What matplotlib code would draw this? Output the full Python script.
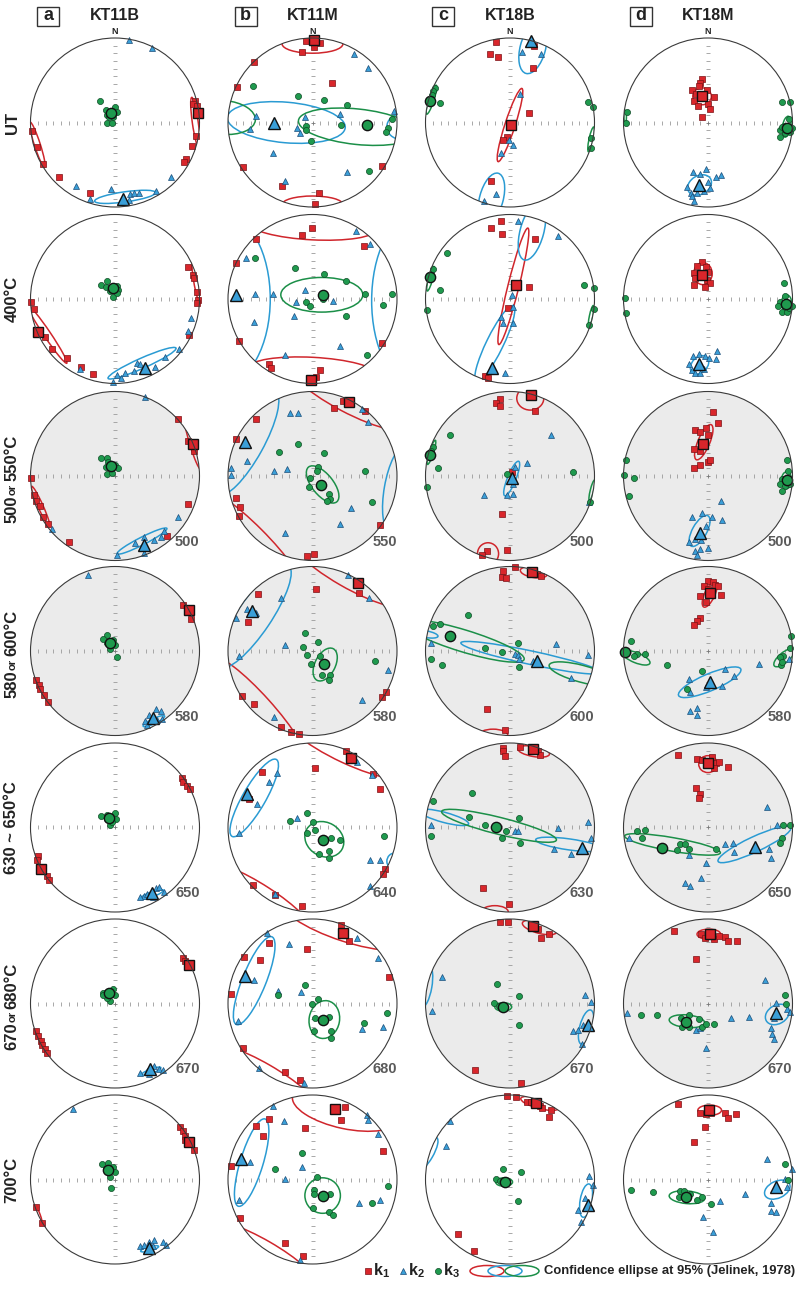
import matplotlib
matplotlib.use("Agg")
import numpy as np
import matplotlib.pyplot as plt
from matplotlib.patches import Circle, Ellipse, Rectangle
from matplotlib import font_manager

# ---- panel layout (pixels) ----
W, H = 800, 1291
R = 84.5
COL_X = [115, 312.5, 510, 708]
ROW_Y = [122.5, 299, 476, 651, 827.5, 1003.5, 1179.5]

SAMPLES = ["KT11B", "KT11M", "KT18B", "KT18M"]
LETTERS = ["a", "b", "c", "d"]

# row labels: (first part, small connector, second part)
ROW_LABELS = [("UT", "", ""), ("400°C", "", ""), ("500", "or", "550°C"),
              ("580", "or", "600°C"), ("630 ~ 650°C", "", ""),
              ("670", "or", "680°C"), ("700°C", "", "")]

STEP_KT11B = ["", "", "500", "580", "650", "670", ""]
STEP_KT11M = ["", "", "550", "580", "640", "680", ""]
STEP_KT18B = ["", "", "500", "600", "630", "670", ""]
STEP_KT18M = ["", "", "500", "580", "650", "670", ""]

# shaded panels, per row
SHADED = [[0, 0, 0, 0], [0, 0, 0, 0], [1, 1, 1, 1], [1, 1, 1, 1],
          [0, 0, 1, 1], [0, 0, 1, 1], [0, 0, 0, 0]]

# ---------------- KT11B ----------------
KT11B_K1 = [
    [(0.95, 0.26), (0.92, 0.22), (0.97, 0.19), (0.96, -0.16), (0.91, -0.28), (0.84, -0.43), (0.82, -0.47),
     (-0.98, -0.10), (-0.92, -0.29), (-0.85, -0.49), (-0.66, -0.65), (-0.30, -0.83)],
    [(0.86, 0.38), (0.92, 0.28), (0.94, 0.25), (0.97, 0.08), (0.98, -0.01), (0.97, -0.05), (0.88, -0.43),
     (-0.99, -0.03), (-0.96, -0.12), (-0.83, -0.45), (-0.74, -0.59), (-0.57, -0.70), (-0.40, -0.80), (-0.26, -0.89)],
    [(0.75, 0.67), (0.86, 0.42), (0.94, 0.30), (0.86, -0.33), (0.62, -0.71), (-0.99, -0.02), (-0.96, -0.23),
     (-0.93, -0.29), (-0.89, -0.36), (-0.85, -0.49), (-0.79, -0.57), (-0.55, -0.78)],
    [(0.81, 0.55), (0.90, 0.38), (-0.94, -0.34), (-0.90, -0.40), (-0.89, -0.45), (-0.84, -0.52), (-0.79, -0.60)],
    [(0.79, 0.58), (0.81, 0.54), (0.85, 0.49), (0.89, 0.45), (-0.91, -0.34), (-0.92, -0.38), (-0.80, -0.57), (-0.78, -0.62)],
    [(0.81, 0.54), (0.83, 0.50), (-0.93, -0.32), (-0.91, -0.38), (-0.88, -0.44), (-0.86, -0.49), (-0.83, -0.54), (-0.80, -0.58)],
    [(0.77, 0.62), (0.81, 0.57), (0.83, 0.52), (0.83, 0.47), (0.93, 0.35), (-0.93, -0.33), (-0.86, -0.52)],
]
KT11B_K2 = [
    [(0.16, 0.98), (0.44, 0.88), (0.66, -0.64), (0.48, -0.81), (-0.46, -0.75), (-0.29, -0.91), (-0.05, -0.79),
     (0.18, -0.85), (0.23, -0.84), (0.28, -0.83), (0.16, -0.92)],
    [(0.90, -0.23), (0.86, -0.38), (0.76, -0.59), (0.59, -0.69), (0.47, -0.80), (0.26, -0.76), (0.30, -0.77),
     (0.22, -0.85), (0.12, -0.88), (0.02, -0.90), (0.07, -0.94), (-0.02, -0.98), (-0.42, -0.83)],
    [(0.35, 0.93), (0.74, -0.49), (0.58, -0.65), (0.54, -0.72), (0.46, -0.76), (0.34, -0.72), (0.24, -0.79),
     (0.34, -0.91), (0.02, -0.93), (-0.74, -0.63)],
    [(-0.32, 0.90), (0.48, -0.69), (0.54, -0.71), (0.40, -0.76), (0.36, -0.83), (0.56, -0.80), (0.50, -0.82), (0.38, -0.87)],
    [(0.34, -0.81), (0.38, -0.79), (0.48, -0.72), (0.52, -0.71), (0.58, -0.76), (0.45, -0.82), (0.30, -0.82)],
    [(0.30, -0.82), (0.38, -0.80), (0.46, -0.74), (0.52, -0.77), (0.57, -0.79), (0.40, -0.83)],
    [(-0.50, 0.84), (0.30, -0.79), (0.34, -0.77), (0.40, -0.74), (0.46, -0.72), (0.45, -0.79), (0.57, -0.74), (0.60, -0.77)],
]
KT11B_K3 = [
    [(-0.18, 0.26), (-0.11, 0.15), (0.0, 0.18), (0.02, 0.13), (-0.09, 0.09), (-0.02, 0.07), (-0.09, 0.0), (-0.04, -0.01), (-0.07, 0.06)],
    [(-0.09, 0.21), (-0.16, 0.16), (-0.11, 0.14), (0.02, 0.15), (0.04, 0.11), (-0.06, 0.09), (-0.02, 0.02), (0.02, 0.07)],
    [(-0.16, 0.21), (-0.09, 0.21), (-0.11, 0.11), (0.0, 0.13), (-0.10, 0.02), (-0.04, 0.03), (0.03, 0.09), (-0.08, 0.17)],
    [(-0.10, 0.19), (-0.14, 0.14), (-0.02, 0.13), (0.0, 0.07), (-0.06, 0.02), (-0.10, 0.09), (0.02, -0.07)],
    [(-0.16, 0.14), (-0.10, 0.15), (0.0, 0.17), (0.01, 0.10), (-0.06, 0.03), (-0.10, 0.10), (-0.04, 0.06)],
    [(-0.14, 0.13), (-0.02, 0.17), (0.0, 0.10), (-0.06, 0.03), (-0.10, 0.07), (-0.14, 0.10)],
    [(-0.15, 0.18), (-0.08, 0.20), (-0.02, 0.15), (0.0, 0.09), (-0.06, 0.03), (-0.11, 0.13), (-0.05, -0.10)],
]
# mean directions per row: k1, k2, k3
KT11B_MEAN = [
    [(0.98, 0.11), (0.09, -0.91), (-0.05, 0.11)],
    [(-0.91, -0.39), (0.35, -0.82), (-0.02, 0.13)],
    [(0.92, 0.38), (0.34, -0.82), (-0.05, 0.12)],
    [(0.87, 0.49), (0.45, -0.79), (-0.06, 0.10)],
    [(-0.88, -0.49), (0.44, -0.77), (-0.07, 0.11)],
    [(0.88, 0.46), (0.42, -0.78), (-0.07, 0.12)],
    [(0.88, 0.44), (0.40, -0.81), (-0.08, 0.11)],
]
# confidence ellipses: (axis, x, y, long, short, angle)
KT11B_ELL = [
    [("k1", 0.95, 0.0, 0.6, 0.07, 98), ("k1", -0.92, -0.26, 0.56, 0.07, 108), ("k2", 0.12, -0.88, 0.73, 0.12, 8)],
    [("k1", 0.96, 0.22, 0.5, 0.06, 99), ("k1", -0.80, -0.42, 0.82, 0.08, 124), ("k2", 0.32, -0.76, 0.88, 0.12, 24)],
    [("k1", 0.92, 0.38, 0.62, 0.07, 107), ("k1", -0.88, -0.36, 0.52, 0.06, 114), ("k2", 0.32, -0.77, 0.66, 0.09, 27)],
    [("k2", 0.46, -0.83, 0.28, 0.06, 25)],
    [("k2", 0.44, -0.79, 0.28, 0.06, 20)],
    [("k2", 0.43, -0.80, 0.24, 0.05, 20)],
    [("k2", 0.41, -0.82, 0.22, 0.05, 15), ("k1", -0.90, -0.42, 0.2, 0.03, 110)],
]

# ---------------- KT11M ----------------
KT11M_K1 = [
    [(-0.08, 0.96), (0.09, 0.94), (0.02, 0.89), (-0.13, 0.83), (-0.69, 0.72), (-0.89, 0.42), (0.23, 0.47),
     (-0.82, -0.53), (-0.36, -0.75), (0.08, -0.84), (0.03, -0.96), (0.82, -0.51)],
    [(0.04, -0.92), (0.09, -0.84), (-0.51, -0.77), (-0.49, -0.82), (-0.87, -0.50), (0.82, -0.52), (-0.90, 0.43),
     (-0.67, 0.71), (-0.13, 0.76), (-0.01, 0.84), (0.61, 0.63)],
    [(0.36, 0.89), (0.26, 0.81), (0.62, 0.77), (-0.67, 0.68), (-0.90, 0.44), (-0.91, -0.26), (-0.86, -0.37),
     (-0.87, -0.47), (0.80, -0.58), (-0.07, -0.95), (0.02, -0.92)],
    [(0.55, 0.69), (0.04, 0.73), (-0.65, 0.67), (-0.76, 0.34), (-0.84, -0.53), (-0.69, -0.63), (-0.37, -0.90),
     (-0.25, -0.96), (-0.16, -0.98), (0.82, -0.54), (0.87, -0.49)],
    [(0.40, 0.91), (0.03, 0.70), (-0.60, 0.66), (-0.75, 0.34), (0.72, 0.63), (0.80, 0.46), (0.86, -0.49),
     (0.83, -0.55), (-0.70, -0.68), (-0.44, -0.80), (-0.13, -0.93)],
    [(0.34, 0.93), (0.43, 0.74), (-0.51, 0.72), (-0.81, 0.55), (-0.62, 0.51), (-0.07, 0.64), (-0.96, 0.11),
     (0.90, 0.31), (-0.82, -0.53), (-0.33, -0.81), (-0.15, -0.91)],
    [(0.39, 0.86), (0.34, 0.70), (-0.09, 0.61), (-0.51, 0.72), (-0.67, 0.63), (-0.59, 0.51), (-0.96, 0.16),
     (0.84, 0.34), (-0.86, -0.46), (-0.32, -0.75), (-0.11, -0.90)],
]
KT11M_K2 = [
    [(-0.67, 0.08), (-0.74, -0.08), (-0.18, -0.06), (-0.09, 0.06), (-0.15, -0.13), (-0.47, -0.36), (-0.33, -0.69),
     (0.32, 0.10), (0.41, -0.59), (0.49, 0.81), (0.66, 0.64), (0.96, 0.14)],
    [(-0.68, 0.06), (-0.47, 0.06), (-0.79, 0.49), (-0.09, 0.11), (-0.19, -0.04), (0.24, -0.02), (-0.22, -0.20),
     (-0.69, -0.27), (-0.33, -0.66), (0.33, -0.56), (0.51, 0.81), (0.68, 0.65)],
    [(-0.27, 0.75), (-0.17, 0.74), (0.58, 0.79), (0.66, 0.64), (-0.78, 0.18), (-0.96, 0.09), (-0.96, 0.01),
     (-0.46, 0.06), (-0.30, 0.08), (0.46, -0.38), (0.33, -0.57), (-0.33, -0.67)],
    [(-0.77, 0.50), (-0.67, 0.45), (-0.91, 0.39), (-0.37, 0.63), (0.42, 0.90), (0.67, 0.63), (-0.32, 0.07),
     (-0.87, -0.06), (0.89, -0.22), (0.58, -0.58), (-0.45, -0.78)],
    [(-0.42, 0.65), (-0.52, 0.54), (-0.66, 0.28), (-0.87, -0.06), (-0.18, 0.11), (0.53, 0.78), (0.70, 0.62),
     (0.68, -0.39), (0.80, -0.39), (0.68, -0.69), (-0.44, -0.79)],
    [(-0.54, 0.84), (-0.28, 0.70), (0.53, 0.78), (0.78, 0.54), (-0.69, 0.28), (-0.41, 0.15), (-0.14, 0.14),
     (-0.88, -0.21), (0.58, -0.30), (0.84, -0.28), (-0.63, -0.76), (-0.10, -0.94)],
    [(-0.47, 0.87), (-0.34, 0.69), (0.65, 0.76), (0.66, 0.70), (0.78, 0.54), (-0.74, 0.21), (-0.33, 0.01),
     (-0.13, 0.15), (-0.87, -0.24), (0.55, -0.28), (0.80, -0.24), (-0.15, -0.95)],
]
KT11M_K3 = [
    [(-0.70, 0.43), (-0.17, 0.31), (0.14, 0.27), (0.41, 0.21), (-0.08, -0.04), (-0.08, -0.09), (0.34, -0.03),
     (-0.02, -0.22), (0.94, 0.04), (0.89, -0.06), (0.87, -0.11), (0.67, -0.57)],
    [(-0.68, 0.49), (-0.21, 0.37), (0.14, 0.29), (0.40, 0.21), (0.62, 0.06), (0.94, 0.06), (0.84, -0.07),
     (-0.08, -0.04), (-0.03, -0.08), (0.40, -0.20), (0.65, -0.66), (0.13, 0.0)],
    [(-0.40, 0.28), (-0.17, 0.38), (0.14, 0.27), (0.06, 0.11), (0.05, 0.06), (-0.03, -0.02), (-0.04, -0.13),
     (0.19, -0.21), (0.21, -0.27), (0.17, -0.29), (0.62, 0.06), (0.70, -0.31)],
    [(-0.09, 0.21), (0.06, 0.11), (-0.11, 0.05), (0.09, -0.06), (-0.06, -0.05), (-0.02, -0.15), (0.11, -0.28),
     (0.21, -0.28), (0.19, -0.34), (0.74, -0.12)],
    [(-0.27, 0.08), (-0.07, 0.17), (0.0, 0.06), (0.03, -0.03), (-0.07, -0.07), (0.22, -0.12), (0.32, -0.15),
     (0.20, -0.28), (0.08, -0.31), (0.19, -0.36), (0.85, -0.10)],
    [(-0.09, 0.22), (-0.41, 0.10), (0.06, 0.05), (-0.01, -0.01), (0.03, -0.17), (0.20, -0.16), (0.02, -0.33),
     (0.22, -0.33), (0.22, -0.41), (0.88, -0.11), (0.61, -0.23)],
    [(-0.13, 0.31), (-0.44, 0.12), (0.05, 0.03), (0.02, -0.12), (0.02, -0.17), (0.21, -0.17), (0.0, -0.34),
     (0.19, -0.38), (0.24, -0.42), (0.70, -0.28), (0.89, -0.08)],
]
KT11M_MEAN = [
    [(0.02, 0.98), (-0.45, 0.0), (0.64, -0.03)],
    [(-0.02, -0.96), (-0.91, 0.05), (0.12, 0.05)],
    [(0.43, 0.87), (-0.80, 0.40), (0.10, -0.11)],
    [(0.54, 0.81), (-0.72, 0.47), (0.14, -0.15)],
    [(0.46, 0.82), (-0.77, 0.40), (0.12, -0.15)],
    [(0.36, 0.84), (-0.80, 0.32), (0.13, -0.19)],
    [(0.27, 0.84), (-0.85, 0.24), (0.12, -0.20)],
]
KT11M_ELL = [
    [("k1", 0.0, 0.93, 0.72, 0.22, 0), ("k1", 0.0, -0.97, 0.72, 0.2, 0), ("k2", -0.31, 0.0, 1.4, 0.48, -5),
     ("k2", 1.05, -0.05, 0.34, 0.3, 0), ("k3", 0.53, -0.05, 1.4, 0.42, -6), ("k3", -1.05, 0.06, 0.75, 0.4, -5)],
    [("k1", 0.0, 0.86, 1.5, 0.32, -3), ("k1", 0.0, -0.85, 1.5, 0.32, -3), ("k2", -1.05, 0.0, 1.1, 2.0, 0),
     ("k2", 1.2, -0.02, 1.0, 2.0, 0), ("k3", 0.11, 0.05, 0.97, 0.41, 0)],
    [("k1", 0.45, 1.0, 1.8, 0.5, -28), ("k1", -0.71, -0.74, 1.6, 0.3, -45), ("k2", -0.78, 0.39, 1.4, 0.4, 61),
     ("k2", 1.0, -0.15, 1.0, 0.3, 80), ("k3", 0.12, -0.10, 0.53, 0.25, -51)],
    [("k1", 0.45, 1.0, 1.8, 0.5, -30), ("k1", -0.63, -0.68, 1.6, 0.3, -48), ("k2", -0.69, 0.41, 1.45, 0.4, 56),
     ("k3", 0.15, -0.16, 0.42, 0.24, 63)],
    [("k1", 0.45, 1.0, 1.8, 0.5, -25), ("k1", -0.6, -0.84, 1.4, 0.3, -33), ("k2", -0.69, 0.35, 1.05, 0.27, 60),
     ("k2", 0.98, -0.40, 0.2, 0.2, 0), ("k3", 0.14, -0.14, 0.48, 0.4, -30)],
    [("k1", 0.42, 0.98, 1.7, 0.5, -18), ("k1", -0.58, -0.86, 1.4, 0.3, -30), ("k2", -0.69, 0.27, 1.12, 0.28, 68),
     ("k3", 0.14, -0.19, 0.45, 0.36, 80)],
    [("k1", 0.4, 0.85, 1.3, 0.5, -12), ("k1", -0.58, -0.87, 1.4, 0.3, -30), ("k2", -0.72, 0.20, 1.08, 0.27, 73),
     ("k3", 0.12, -0.19, 0.42, 0.42, 0)],
]

# ---------------- KT18B ----------------
KT18B_K1 = [
    [(-0.16, 0.95), (-0.24, 0.81), (-0.14, 0.77), (0.28, 0.91), (0.27, 0.64), (0.22, 0.11), (-0.04, -0.17),
     (-0.08, -0.21), (-0.22, -0.69)],
    [(-0.11, 0.92), (-0.22, 0.84), (-0.10, 0.77), (0.30, 0.71), (0.23, 0.14), (-0.02, -0.11), (-0.29, -0.91), (-0.26, -0.94)],
    [(0.30, 0.77), (-0.12, 0.91), (-0.16, 0.86), (-0.12, 0.83), (0.02, 0.05), (-0.09, -0.45), (-0.04, -0.88),
     (-0.27, -0.89), (-0.33, -0.94)],
    [(0.32, 0.91), (0.37, 0.89), (0.06, 0.99), (-0.08, 0.95), (-0.09, 0.88), (-0.05, 0.86), (-0.27, -0.69), (-0.06, -0.93)],
    [(0.33, 0.90), (0.35, 0.86), (0.12, 0.95), (-0.08, 0.94), (-0.08, 0.91), (-0.06, 0.85), (-0.32, -0.72), (-0.01, -0.91)],
    [(0.33, 0.88), (0.46, 0.82), (0.37, 0.77), (-0.12, 0.97), (-0.02, 0.96), (-0.42, -0.79), (0.13, -0.94)],
    [(0.20, 0.92), (0.25, 0.92), (0.36, 0.87), (0.38, 0.85), (0.49, 0.82), (0.46, 0.74), (0.07, 0.98), (-0.04, 0.99),
     (-0.61, -0.65), (-0.43, -0.85)],
]
KT18B_K2 = [
    [(0.14, 0.83), (0.37, 0.81), (0.12, 0.34), (-0.01, -0.21), (0.04, -0.27), (-0.11, -0.36), (-0.17, -0.85), (-0.31, -0.93)],
    [(0.10, 0.92), (0.57, 0.75), (0.02, 0.05), (0.03, -0.09), (-0.11, -0.21), (-0.08, -0.28), (0.03, -0.28), (-0.06, -0.87)],
    [(0.06, 0.11), (0.20, 0.15), (0.48, 0.49), (0.03, -0.10), (0.04, -0.21), (-0.04, -0.22), (-0.31, -0.22), (0.94, -0.31)],
    [(0.27, -0.12), (0.06, -0.04), (0.09, -0.05), (0.11, -0.10), (0.55, 0.08), (0.92, -0.05), (0.72, -0.32), (-0.93, 0.09)],
    [(-0.93, 0.03), (0.06, -0.04), (0.10, -0.04), (0.57, -0.01), (0.92, 0.07), (0.96, -0.13), (0.52, -0.26), (0.72, -0.31)],
    [(-0.81, 0.31), (-0.92, -0.09), (0.89, 0.10), (0.96, 0.02), (0.86, -0.25), (0.75, -0.32), (0.80, -0.31), (0.85, -0.48)],
    [(-0.71, 0.69), (-0.76, 0.40), (0.93, 0.04), (0.98, -0.06), (0.89, -0.22), (0.81, -0.36), (0.84, -0.50)],
]
KT18B_K3 = [
    [(-0.89, 0.41), (-0.91, 0.37), (-0.92, 0.33), (-0.83, 0.23), (0.92, 0.24), (0.98, 0.18), (0.96, -0.18), (0.96, -0.30)],
    [(-0.91, 0.36), (-0.75, 0.55), (-0.83, 0.11), (-0.98, -0.13), (0.87, 0.17), (0.99, 0.13), (0.99, -0.12), (0.94, -0.31)],
    [(-0.91, 0.34), (-0.93, 0.30), (-0.71, 0.48), (-0.85, 0.10), (-0.98, -0.13), (-0.04, 0.02), (0.74, 0.05), (0.95, -0.31)],
    [(-0.91, 0.30), (-0.83, 0.32), (-0.50, 0.43), (-0.29, 0.04), (-0.10, -0.01), (0.10, 0.09), (0.11, -0.19),
     (-0.93, -0.09), (-0.80, -0.16)],
    [(-0.45, 0.41), (-0.91, 0.31), (-0.49, 0.13), (-0.29, 0.03), (-0.05, -0.04), (-0.10, -0.13), (0.11, 0.11),
     (0.12, -0.18), (-0.94, -0.10)],
    [(-0.15, 0.23), (-0.19, 0.01), (-0.13, -0.03), (0.11, 0.09), (0.11, -0.25)],
    [(-0.08, 0.13), (0.13, 0.09), (-0.16, 0.01), (-0.12, -0.02), (0.09, -0.25)],
]
KT18B_MEAN = [
    [(0.01, -0.03), (0.25, 0.96), (-0.95, 0.26)],
    [(0.07, 0.17), (-0.21, -0.82), (-0.95, 0.26)],
    [(0.25, 0.96), (0.02, -0.02), (-0.95, 0.25)],
    [(0.26, 0.94), (0.32, -0.12), (-0.71, 0.18)],
    [(0.27, 0.93), (0.85, -0.24), (-0.16, 0.0)],
    [(0.27, 0.92), (0.92, -0.26), (-0.08, -0.04)],
    [(0.31, 0.91), (0.92, -0.30), (-0.06, -0.03)],
]
KT18B_ELL = [
    [("k1", 0.0, -0.03, 0.91, 0.12, 72), ("k2", 0.27, 0.88, 0.62, 0.3, 75), ("k2", -0.22, -0.9, 0.62, 0.28, 75),
     ("k3", -0.93, 0.27, 0.36, 0.06, 72), ("k3", 0.96, -0.2, 0.3, 0.05, 78)],
    [("k1", 0.04, 0.15, 1.42, 0.13, 76), ("k2", 0.26, 0.8, 0.7, 0.28, 75), ("k2", -0.18, -0.53, 1.0, 0.2, 64),
     ("k3", -0.94, 0.24, 0.3, 0.05, 75), ("k3", 0.96, -0.2, 0.25, 0.04, 78)],
    [("k1", 0.24, 0.92, 0.32, 0.28, 0), ("k1", -0.26, -0.92, 0.25, 0.26, 0), ("k2", 0.02, -0.03, 0.44, 0.10, 68),
     ("k3", -0.93, 0.28, 0.3, 0.05, 72), ("k3", 0.97, -0.17, 0.25, 0.04, 76)],
    [("k1", 0.28, 0.93, 0.32, 0.12, -10), ("k1", -0.2, -1.0, 0.35, 0.15, 0), ("k2", 0.25, -0.08, 1.7, 0.16, -12),
     ("k2", -1.0, 0.2, 0.3, 0.08, -10), ("k3", -0.55, 0.12, 1.5, 0.26, -17), ("k3", 0.85, -0.27, 0.8, 0.2, -15)],
    [("k1", 0.28, 0.90, 0.38, 0.12, -10), ("k1", -0.18, -1.0, 0.32, 0.15, 0), ("k2", -0.78, 0.12, 0.6, 0.12, -15),
     ("k2", 0.70, -0.2, 0.8, 0.13, -8), ("k3", -0.13, 0.02, 1.4, 0.2, -14)],
    [("k1", 0.35, 0.9, 0.42, 0.14, -15), ("k2", 0.9, -0.28, 0.42, 0.15, 75), ("k2", -1.0, 0.2, 0.5, 0.15, 80),
     ("k3", -0.08, -0.04, 0.2, 0.1, 0)],
    [("k1", 0.35, 0.9, 0.46, 0.12, -15), ("k2", 0.9, -0.25, 0.4, 0.14, 80), ("k2", -0.98, 0.3, 0.45, 0.14, 60),
     ("k3", -0.07, -0.03, 0.2, 0.1, 0)],
]

# ---------------- KT18M ----------------
KT18M_K1 = [
    [(-0.07, 0.52), (-0.09, 0.47), (-0.11, 0.43), (-0.19, 0.39), (-0.14, 0.34), (-0.01, 0.38), (0.07, 0.30),
     (-0.16, 0.25), (-0.12, 0.20), (0.0, 0.22), (0.02, 0.16), (-0.07, 0.07)],
    [(-0.07, 0.44), (-0.13, 0.39), (-0.02, 0.38), (-0.16, 0.31), (0.0, 0.32), (-0.15, 0.25), (-0.01, 0.22),
     (0.02, 0.19), (-0.04, 0.14), (-0.16, 0.17)],
    [(0.06, 0.76), (0.12, 0.63), (-0.15, 0.55), (-0.09, 0.52), (-0.02, 0.57), (0.0, 0.48), (-0.16, 0.32),
     (-0.09, 0.29), (-0.17, 0.10), (-0.09, 0.13), (0.0, 0.17), (0.02, 0.19)],
    [(0.0, 0.83), (0.06, 0.82), (0.08, 0.78), (0.12, 0.77), (-0.05, 0.77), (-0.10, 0.65), (0.15, 0.66), (0.0, 0.73),
     (-0.02, 0.58), (-0.09, 0.39), (-0.13, 0.36), (-0.16, 0.31)],
    [(-0.35, 0.86), (-0.13, 0.81), (-0.07, 0.80), (0.05, 0.83), (0.09, 0.76), (0.13, 0.78), (0.07, 0.71),
     (0.24, 0.72), (-0.14, 0.47), (-0.09, 0.40), (-0.11, 0.35)],
    [(-0.40, 0.86), (-0.08, 0.82), (-0.04, 0.77), (0.07, 0.76), (0.13, 0.80), (0.20, 0.79), (0.24, 0.74),
     (0.34, 0.74), (-0.14, 0.53)],
    [(-0.35, 0.89), (-0.09, 0.79), (-0.02, 0.78), (0.03, 0.79), (0.20, 0.79), (0.24, 0.73), (0.33, 0.77),
     (-0.04, 0.62), (-0.16, 0.44)],
]
KT18M_K2 = [
    [(-0.02, -0.55), (-0.18, -0.59), (-0.09, -0.61), (0.10, -0.64), (0.15, -0.62), (0.0, -0.70), (0.02, -0.77),
     (-0.25, -0.76), (-0.20, -0.83), (-0.13, -0.83), (-0.19, -0.87), (-0.16, -0.93), (-0.05, -0.81)],
    [(-0.18, -0.67), (-0.11, -0.65), (-0.04, -0.67), (0.01, -0.70), (0.11, -0.61), (0.10, -0.71), (-0.22, -0.77),
     (-0.19, -0.84), (-0.15, -0.87), (-0.10, -0.87), (-0.05, -0.83)],
    [(0.15, -0.30), (-0.19, -0.48), (-0.07, -0.44), (0.05, -0.48), (0.17, -0.52), (-0.02, -0.59), (-0.23, -0.78),
     (-0.15, -0.74), (-0.08, -0.76), (-0.09, -0.86), (0.0, -0.85), (-0.15, -0.89), (-0.13, -0.93)],
    [(0.20, -0.21), (0.31, -0.29), (-0.22, -0.33), (0.17, -0.41), (-0.02, -0.43), (-0.21, -0.49), (0.60, -0.15),
     (0.96, -0.10), (-0.21, -0.71), (-0.13, -0.67), (-0.13, -0.76)],
    [(0.70, 0.24), (0.82, 0.03), (0.20, -0.20), (0.30, -0.18), (0.31, -0.29), (0.72, -0.25), (0.74, -0.36),
     (-0.02, -0.42), (-0.08, -0.60), (-0.27, -0.66), (-0.21, -0.69), (-0.94, -0.12), (-0.22, -0.33)],
    [(0.68, 0.28), (0.81, 0.01), (0.27, -0.17), (0.48, -0.16), (0.94, -0.07), (0.97, -0.10), (0.78, -0.17),
     (0.74, -0.29), (0.76, -0.36), (0.78, -0.42), (-0.14, -0.31), (-0.09, -0.29), (-0.02, -0.53), (-0.96, -0.11)],
    [(0.70, 0.24), (0.99, 0.13), (0.91, 0.01), (0.93, -0.09), (0.44, -0.17), (0.14, -0.26), (0.74, -0.28),
     (0.74, -0.37), (0.80, -0.38), (-0.06, -0.44), (0.06, -0.62)],
]
KT18M_K3 = [
    [(0.88, 0.24), (0.97, 0.24), (0.96, 0.04), (0.90, -0.04), (0.85, -0.09), (0.91, -0.13), (0.97, -0.11),
     (0.99, -0.07), (0.85, -0.17), (0.87, -0.05), (-0.96, 0.13), (-0.97, 0.0)],
    [(0.90, 0.19), (0.91, 0.04), (0.85, -0.03), (0.83, -0.08), (0.87, -0.15), (0.93, -0.15), (0.96, -0.11),
     (0.99, -0.08), (-0.98, 0.01), (-0.97, -0.16)],
    [(0.93, 0.19), (0.95, 0.06), (0.88, -0.04), (0.85, -0.09), (0.91, -0.12), (0.87, -0.18), (0.97, -0.10),
     (-0.97, 0.19), (-0.99, 0.01), (-0.88, -0.02), (-0.93, -0.24)],
    [(-0.91, 0.12), (-0.84, -0.03), (-0.88, -0.06), (-0.74, -0.03), (-0.48, -0.17), (-0.07, -0.24), (-0.25, -0.45),
     (0.98, 0.18), (0.97, 0.04), (0.89, -0.06), (0.85, -0.07), (0.86, -0.17), (0.88, -0.13)],
    [(-0.84, -0.04), (-0.74, -0.03), (-0.78, -0.13), (-0.37, -0.27), (-0.33, -0.20), (-0.27, -0.20), (-0.22, -0.26),
     (0.10, -0.26), (0.89, 0.03), (0.97, 0.03), (0.87, -0.13), (0.85, -0.18)],
    [(-0.79, -0.14), (-0.60, -0.14), (-0.32, -0.17), (-0.23, -0.14), (-0.31, -0.28), (-0.23, -0.28), (-0.11, -0.18),
     (-0.07, -0.28), (-0.02, -0.24), (0.07, -0.24), (0.91, 0.10), (0.92, 0.0)],
    [(-0.91, -0.12), (-0.65, -0.15), (-0.33, -0.14), (-0.28, -0.14), (-0.34, -0.21), (-0.21, -0.17), (-0.13, -0.24),
     (-0.07, -0.21), (0.03, -0.29), (0.91, 0.18), (0.95, 0.0)],
]
KT18M_MEAN = [
    [(-0.07, 0.31), (-0.11, -0.74), (0.93, -0.06)],
    [(-0.07, 0.28), (-0.11, -0.77), (0.92, -0.06)],
    [(-0.06, 0.38), (-0.09, -0.68), (0.94, -0.05)],
    [(0.02, 0.69), (0.02, -0.37), (-0.98, -0.01)],
    [(0.0, 0.76), (0.56, -0.23), (-0.54, -0.24)],
    [(0.02, 0.82), (0.81, -0.11), (-0.26, -0.22)],
    [(0.01, 0.82), (0.81, -0.09), (-0.26, -0.21)],
]
KT18M_ELL = [
    [("k1", -0.07, 0.31, 0.22, 0.2, 0), ("k2", -0.1, -0.74, 0.3, 0.22, 30), ("k3", 0.93, -0.05, 0.25, 0.1, 80),
     ("k3", -0.98, 0.07, 0.15, 0.03, 90)],
    [("k1", -0.06, 0.30, 0.26, 0.22, 90), ("k2", -0.1, -0.78, 0.25, 0.18, 45), ("k3", 0.93, -0.05, 0.2, 0.12, 90)],
    [("k1", -0.05, 0.40, 0.45, 0.14, 67), ("k2", -0.1, -0.65, 0.41, 0.17, 61), ("k3", 0.93, -0.05, 0.2, 0.12, 90)],
    [("k1", 0.02, 0.67, 0.33, 0.12, 65), ("k2", 0.02, -0.37, 0.8, 0.2, 23), ("k3", -0.85, -0.08, 0.35, 0.12, -22),
     ("k3", 0.9, -0.08, 0.3, 0.12, 40)],
    [("k1", 0.0, 0.75, 0.22, 0.2, 0), ("k2", 0.55, -0.2, 0.95, 0.18, 25), ("k3", -0.42, -0.2, 1.15, 0.16, -10)],
    [("k1", 0.01, 0.82, 0.28, 0.12, 0), ("k2", 0.82, -0.13, 0.3, 0.22, 30), ("k3", -0.25, -0.21, 0.42, 0.15, -5)],
    [("k1", 0.02, 0.82, 0.28, 0.12, 0), ("k2", 0.82, -0.12, 0.32, 0.2, 25), ("k3", -0.25, -0.21, 0.42, 0.15, -5)],
]

COLUMNS = [
    (KT11B_K1, KT11B_K2, KT11B_K3, KT11B_MEAN, KT11B_ELL, STEP_KT11B),
    (KT11M_K1, KT11M_K2, KT11M_K3, KT11M_MEAN, KT11M_ELL, STEP_KT11M),
    (KT18B_K1, KT18B_K2, KT18B_K3, KT18B_MEAN, KT18B_ELL, STEP_KT18B),
    (KT18M_K1, KT18M_K2, KT18M_K3, KT18M_MEAN, KT18M_ELL, STEP_KT18M),
]

# ---- styles ----
FACE = {"k1": "#d9262b", "k2": "#3a9fd8", "k3": "#1f9a4e"}
EDGE = {"k1": "#7a1216", "k2": "#1d4e78", "k3": "#0e4a25"}
LINE = {"k1": "#d0262c", "k2": "#2a9bd3", "k3": "#1b8f48"}
MARK = {"k1": "s", "k2": "^", "k3": "o"}
SMALL = {"k1": 4.2, "k2": 4.6, "k3": 4.4}
BIG = {"k1": 7.2, "k2": 8.0, "k3": 7.4}
SHADE = "#ebebeb"
INK = "#222222"

names = {f.name for f in font_manager.fontManager.ttflist}
COND = "Liberation Sans Narrow" if "Liberation Sans Narrow" in names else "Liberation Sans"
plt.rcParams["font.family"] = [COND, "DejaVu Sans"]
plt.rcParams["mathtext.fontset"] = "custom"
plt.rcParams["mathtext.bf"] = "Liberation Sans:bold"
plt.rcParams["mathtext.rm"] = "Liberation Sans"

fig = plt.figure(figsize=(W / 100, H / 100), dpi=100)

# overlay in pixel coordinates for labels and legend
ov = fig.add_axes([0, 0, 1, 1])
ov.set_xlim(0, W)
ov.set_ylim(H, 0)
ov.axis("off")

for j, (cx, name, let) in enumerate(zip(COL_X, SAMPLES, LETTERS)):
    bx = cx - 78
    ov.add_patch(Rectangle((bx, 7), 22, 19, fc="white", ec="#333333", lw=1.0))
    ov.text(bx + 11, 16, let, ha="center", va="center", fontsize=13, fontweight="bold", color=INK)
    ov.text(cx, 16, name, ha="center", va="center", fontsize=11.5, fontweight="bold", color=INK)
    ov.text(cx, 31.5, "N", ha="center", va="center", fontsize=6.5, fontweight="bold", color=INK)

for i, (cy, lab) in enumerate(zip(ROW_Y, ROW_LABELS)):
    a, mid, b = lab
    if not mid:
        ov.text(12, cy, a, rotation=90, ha="center", va="center", fontsize=12,
                fontweight="bold", color=INK)
    else:
        ov.text(12, cy + 33, a, rotation=90, ha="center", va="center", fontsize=12,
                fontweight="bold", color=INK)
        ov.text(13, cy + 13, mid, rotation=90, ha="center", va="center", fontsize=8,
                fontweight="bold", color=INK)
        ov.text(12, cy - 18, b, rotation=90, ha="center", va="center", fontsize=12,
                fontweight="bold", color=INK)

# legend
ly = 1271
lx = 368
for k, lab in zip(["k1", "k2", "k3"], ["1", "2", "3"]):
    ov.plot([lx], [ly], ls="none", marker=MARK[k], ms=SMALL[k], mfc=FACE[k], mec=EDGE[k], mew=0.5)
    ov.text(lx + 5, ly, r"$\mathbf{k_%s}$" % lab, ha="left", va="center", fontsize=11.5, color=INK)
    lx += 35
for k, ex in zip(["k1", "k2", "k3"], [487, 505, 522]):
    ov.add_patch(Ellipse((ex, ly), 34, 11, fill=False, ec=LINE[k], lw=1.1))
ov.text(544, ly, "Confidence ellipse at 95% (Jelinek, 1978)", ha="left", va="center",
        fontsize=9.4, fontweight="bold", color=INK)

hx = np.linspace(-0.91, 0.91, 21)

for j, (k1s, k2s, k3s, means, ells, steps) in enumerate(COLUMNS):
    for i in range(7):
        cx, cy = COL_X[j], ROW_Y[i]
        ax = fig.add_axes([(cx - R) / W, 1 - (cy + R) / H, 2 * R / W, 2 * R / H])
        ax.set_xlim(-1, 1)
        ax.set_ylim(-1, 1)
        ax.axis("off")
        bg = SHADE if SHADED[i][j] else "white"
        ax.add_patch(Circle((0, 0), 1, fc=bg, ec="none", zorder=0))
        ax.add_patch(Circle((0, 0), 1, fc="none", ec="#3a3a3a", lw=0.8, zorder=6, clip_on=False))

        # graticule ticks along the diameters
        keep = np.abs(hx) > 0.02
        ax.plot(hx[keep], np.zeros(keep.sum()), ls="none", marker="|", ms=2.6, mew=0.6, color="#9a9a9a", zorder=1)
        ax.plot(np.zeros(keep.sum()), hx[keep], ls="none", marker="_", ms=2.6, mew=0.6, color="#9a9a9a", zorder=1)
        ax.plot([0], [0], ls="none", marker="+", ms=3, mew=0.6, color="#777777", zorder=1)

        clip = Circle((0, 0), 1, transform=ax.transData)
        for k, ex, ey, ew, eh, ang in ells[i]:
            e = Ellipse((ex, ey), ew, eh, angle=ang, fill=False, ec=LINE[k], lw=1.1, zorder=2)
            ax.add_patch(e)
            e.set_clip_path(clip)

        for k, pts in zip(["k1", "k2", "k3"], [k1s[i], k2s[i], k3s[i]]):
            xs = [p[0] for p in pts]
            ys = [p[1] for p in pts]
            ax.plot(xs, ys, ls="none", marker=MARK[k], ms=SMALL[k], mfc=FACE[k], mec=EDGE[k],
                    mew=0.5, zorder=3, clip_on=False)
        for k, p in zip(["k1", "k2", "k3"], means[i]):
            ax.plot([p[0]], [p[1]], ls="none", marker=MARK[k], ms=BIG[k], mfc=FACE[k], mec="#111111",
                    mew=1.0, zorder=4, clip_on=False)

        if steps[i]:
            ax.text(1.0, -0.78, steps[i], ha="right", va="center", fontsize=10.5, fontweight="bold",
                    color="#5a5a5a", zorder=7, clip_on=False)

fig.savefig("out.png", dpi=100)
